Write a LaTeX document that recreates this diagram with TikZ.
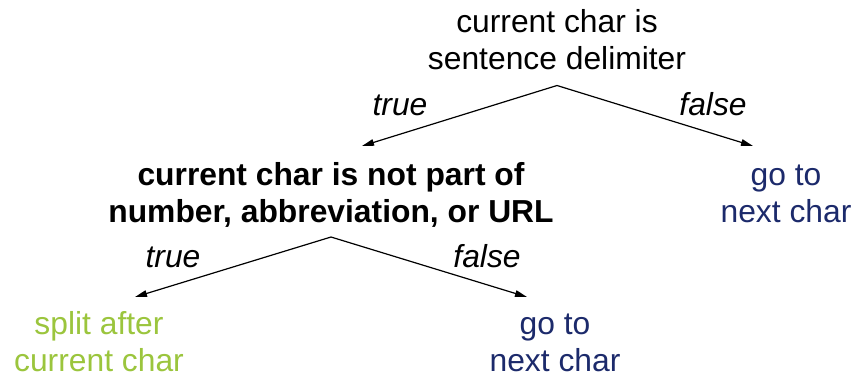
\documentclass[tikz,border=0pt]{standalone}
\usepackage{fontspec}
\setmainfont{Liberation Sans}
\usetikzlibrary{arrows.meta}
\definecolor{navyc}{HTML}{1C2A6B}
\definecolor{greenc}{HTML}{9BC53D}
\begin{document}
\begin{tikzpicture}[x=1pt,y=-1pt,
  txt/.style={align=center,inner sep=0pt,outer sep=0pt,font=\fontsize{31.8}{37}\selectfont},
  lbl/.style={inner sep=0pt,font=\fontsize{31.8}{37}\selectfont\itshape},
  arr/.style={line width=1.2pt,-{Triangle[length=12pt,width=6.5pt]}}]
\useasboundingbox (0,0) rectangle (866,376);
\node[txt,outer ysep=4.9pt] (top) at (557,43.6) {\strut current char is\\\strut sentence delimiter};
\node[txt,font=\fontsize{31.8}{37}\selectfont\bfseries,outer ysep=3.9pt] (mid) at (331,196.1) {\strut current char is not part of\\\strut number, abbreviation, or URL};
\node[txt,text=navyc] (right) at (786,196.1) {\strut go to\\\strut next char};
\node[txt,text=greenc] (split) at (99,340.6) {\strut split after\\current char};
\node[txt,text=navyc] (next) at (555,340.6) {\strut go to\\next char};
\coordinate (t1) at (362,146);
\coordinate (t2) at (753,146);
\coordinate (t3) at (135,297);
\coordinate (t4) at (527,297);
\draw[arr] (top.south) -- (t1);
\draw[arr] (top.south) -- (t2);
\draw[arr] (mid.south) -- (t3);
\draw[arr] (mid.south) -- (t4);
\node[lbl] (l1) at (400,107.6) {\strut true};
\node[lbl] (l2) at (713,107.6) {\strut false};
\node[lbl] (l3) at (173,259.6) {\strut true};
\node[lbl] (l4) at (487,259.6) {\strut false};
\end{tikzpicture}
\end{document}
